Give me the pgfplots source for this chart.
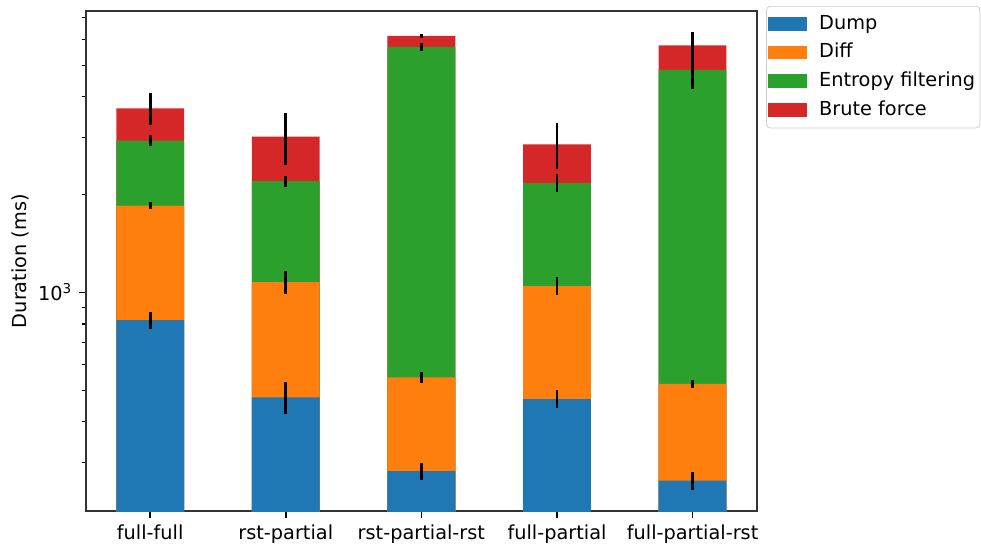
\documentclass[border=0pt]{standalone}
\usepackage{fontspec}
\setmainfont{DejaVu Sans}
\usepackage{pgfplots}
\pgfplotsset{compat=1.18}
\definecolor{cblue}{HTML}{1F77B4}
\definecolor{corange}{HTML}{FF7F0E}
\definecolor{cgreen}{HTML}{2CA02C}
\definecolor{cred}{HTML}{D62728}
\pgfplotsset{
  patchleg/.style={legend image code/.code={\fill[##1, sharp corners] (0pt,-0.35em) rectangle (2em,0.35em);}},
  errb/.style={forget plot, draw=none, mark=none,
    error bars/.cd, y dir=both, y explicit, error mark=none,
    error bar style={draw=black, line width=1.5pt, solid}},
}
\begin{document}
\begin{tikzpicture}
\begin{axis}[
  name=ax,
  scale only axis, width=347.6pt, height=259pt,
  ymode=log, ymin=212.5, ymax=7342,
  xmin=-0.475, xmax=4.475,
  xtick={0,1,2,3,4},
  xticklabels={full-full,rst-partial,rst-partial-rst,full-partial,full-partial-rst},
  ytick={1000}, yticklabels={10\textsuperscript{3}},
  minor ytick={300,400,500,600,700,800,900,2000,3000,4000,5000,6000,7000},
  tick align=outside, tick pos=left,
  major tick length=3.5pt, minor tick length=2pt,
  every tick/.style={black, line width=0.8pt},
  every minor tick/.style={black, line width=0.6pt},
  axis line style={line width=0.8pt, black!80},
  every axis y label/.style={at={(axis description cs:0,0.5)}, rotate=90, anchor=center, yshift=33.7pt},
  ylabel={Duration (ms)},
  reverse legend,
  legend cell align=left,
  legend style={at={(1,1)}, anchor=north west, xshift=4.7pt, yshift=2.6pt,
    draw=black!20, rounded corners=2pt, fill=white, inner xsep=1pt, inner ysep=3pt,
    row sep=2.3pt, column sep=4.8pt,
    nodes={inner sep=1.5pt, text depth=0.2em}},
]
\addplot[ybar, bar width=0.5, bar shift=0pt, fill=cred, draw=none, patchleg] coordinates {(0,3686) (1,3013) (2,6150) (3,2855) (4,5757)};
\addlegendentry{Brute force}
\addplot[ybar, bar width=0.5, bar shift=0pt, fill=cgreen, draw=none, patchleg] coordinates {(0,2930) (1,2202) (2,5690) (3,2171) (4,4835)};
\addlegendentry{Entropy filtering}
\addplot[ybar, bar width=0.5, bar shift=0pt, fill=corange, draw=none, patchleg] coordinates {(0,1849) (1,1076) (2,548) (3,1046) (4,523)};
\addlegendentry{Diff}
\addplot[ybar, bar width=0.5, bar shift=0pt, fill=cblue, draw=none, patchleg] coordinates {(0,822) (1,476) (2,282) (3,470) (4,264)};
\addlegendentry{Dump}
% error bars at cumulative tops
\addplot[errb] coordinates {(0,822) +- (0,48) (1,476) +- (0,54) (2,282) +- (0,17) (3,470) +- (0,30) (4,264) +- (0,17)};
\addplot[errb] coordinates {(0,1849) +- (0,45) (1,1076) +- (0,85) (2,548) +- (0,21) (3,1046) +- (0,66) (4,523) +- (0,14)};
\addplot[errb] coordinates {(0,2930) +- (0,112) (1,2202) +- (0,84) (2,5690) +- (0,155) (3,2171) +- (0,135) (4,4835) +- (0,600)};
\addplot[errb] coordinates {(0,3686) +- (0,420) (1,3013) +- (0,545) (2,6150) +- (0,95) (3,2855) +- (0,458) (4,5757) +- (0,550)};
\end{axis}
\path ([shift={(-44.4pt,-18.6pt)}]ax.south west) rectangle ([shift={(116pt,5.7pt)}]ax.north east);
\end{tikzpicture}
\end{document}
